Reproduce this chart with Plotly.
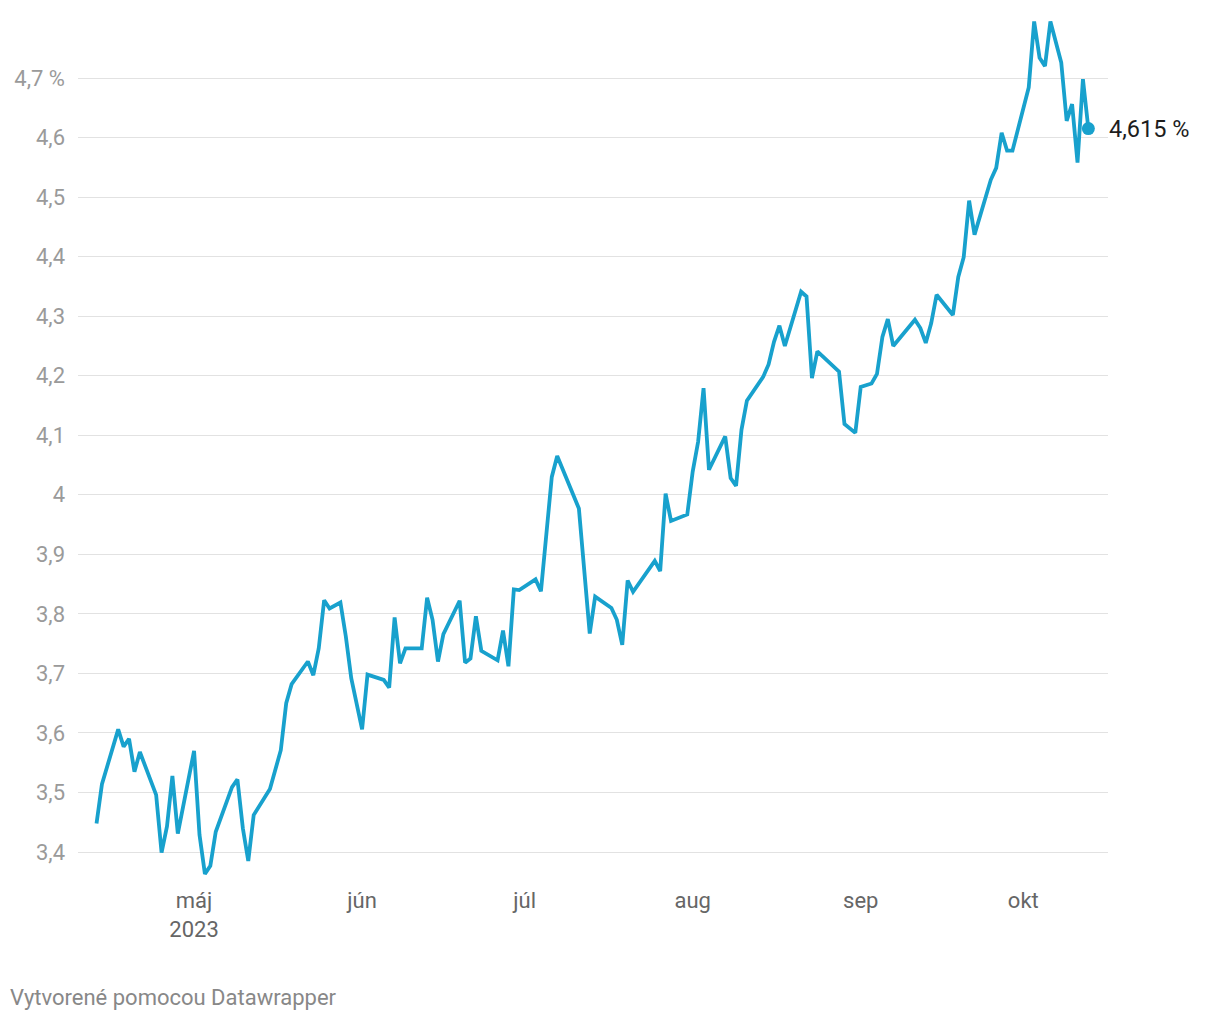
import plotly.graph_objects as go

dates = [
    "2023-04-13", "2023-04-14", "2023-04-17", "2023-04-18", "2023-04-19", "2023-04-20", "2023-04-21",
    "2023-04-24", "2023-04-25", "2023-04-26", "2023-04-27", "2023-04-28",
    "2023-05-01", "2023-05-02", "2023-05-03", "2023-05-04", "2023-05-05",
    "2023-05-08", "2023-05-09", "2023-05-10", "2023-05-11", "2023-05-12",
    "2023-05-15", "2023-05-17", "2023-05-18", "2023-05-19",
    "2023-05-22", "2023-05-23", "2023-05-24", "2023-05-25", "2023-05-26",
    "2023-05-28", "2023-05-29", "2023-05-30", "2023-06-01", "2023-06-02",
    "2023-06-05", "2023-06-06", "2023-06-07", "2023-06-08", "2023-06-09",
    "2023-06-12", "2023-06-13", "2023-06-14", "2023-06-15", "2023-06-16",
    "2023-06-19", "2023-06-20", "2023-06-21", "2023-06-22", "2023-06-23",
    "2023-06-26", "2023-06-27", "2023-06-28", "2023-06-29", "2023-06-30",
    "2023-07-03", "2023-07-04", "2023-07-06", "2023-07-07",
    "2023-07-11", "2023-07-12", "2023-07-13", "2023-07-14",
    "2023-07-17", "2023-07-18", "2023-07-19", "2023-07-20", "2023-07-21",
    "2023-07-25", "2023-07-26", "2023-07-27", "2023-07-28",
    "2023-07-31", "2023-08-01", "2023-08-02", "2023-08-03", "2023-08-04",
    "2023-08-07", "2023-08-08", "2023-08-09", "2023-08-10", "2023-08-11",
    "2023-08-14", "2023-08-15", "2023-08-16", "2023-08-17", "2023-08-18",
    "2023-08-21", "2023-08-22", "2023-08-23", "2023-08-24",
    "2023-08-28", "2023-08-29", "2023-08-31", "2023-09-01",
    "2023-09-03", "2023-09-04", "2023-09-05", "2023-09-06", "2023-09-07",
    "2023-09-11", "2023-09-12", "2023-09-13", "2023-09-14", "2023-09-15",
    "2023-09-18", "2023-09-19", "2023-09-20", "2023-09-21", "2023-09-22",
    "2023-09-25", "2023-09-26", "2023-09-27", "2023-09-28", "2023-09-29",
    "2023-10-02", "2023-10-03", "2023-10-04", "2023-10-05", "2023-10-06",
    "2023-10-08", "2023-10-09", "2023-10-10", "2023-10-11", "2023-10-12", "2023-10-13",
]

yields = [
    3.448, 3.514, 3.606, 3.577, 3.590, 3.535, 3.568,
    3.496, 3.399, 3.443, 3.528, 3.431,
    3.570, 3.429, 3.363, 3.377, 3.434,
    3.509, 3.522, 3.440, 3.385, 3.462,
    3.506, 3.571, 3.650, 3.682,
    3.720, 3.697, 3.742, 3.823, 3.809,
    3.819, 3.762, 3.692, 3.606, 3.698,
    3.689, 3.676, 3.794, 3.717, 3.742,
    3.742, 3.827, 3.790, 3.720, 3.766,
    3.822, 3.718, 3.725, 3.796, 3.738,
    3.722, 3.772, 3.712, 3.841, 3.840,
    3.858, 3.838, 4.030, 4.065,
    3.977, 3.868, 3.767, 3.829,
    3.810, 3.790, 3.748, 3.856, 3.837,
    3.889, 3.872, 4.002, 3.956,
    3.967, 4.039, 4.089, 4.179, 4.042,
    4.098, 4.028, 4.015, 4.109, 4.158,
    4.198, 4.219, 4.257, 4.284, 4.250,
    4.341, 4.333, 4.196, 4.241,
    4.207, 4.119, 4.104, 4.181,
    4.187, 4.203, 4.265, 4.295, 4.250,
    4.294, 4.280, 4.255, 4.288, 4.336,
    4.302, 4.366, 4.399, 4.494, 4.437,
    4.529, 4.549, 4.608, 4.578, 4.578,
    4.684, 4.795, 4.734, 4.720, 4.795,
    4.726, 4.628, 4.656, 4.558, 4.698, 4.615,
]

x_tick_vals = ["2023-05-01", "2023-06-01", "2023-07-01", "2023-08-01", "2023-09-01", "2023-10-01"]
x_tick_text = ["máj<br>2023", "jún", "júl", "aug", "sep", "okt"]

y_tick_vals = [3.4, 3.5, 3.6, 3.7, 3.8, 3.9, 4.0, 4.1, 4.2, 4.3, 4.4, 4.5, 4.6, 4.7]
y_tick_text = ["3,4", "3,5", "3,6", "3,7", "3,8", "3,9", "4", "4,1", "4,2", "4,3", "4,4", "4,5", "4,6", "4,7 %"]

end_label = "4,615 %"
footer = "Vytvorené pomocou Datawrapper"

LINE = "#18a1cd"
FONT = "Roboto"

fig = go.Figure()
fig.add_trace(go.Scatter(
    x=dates, y=yields, mode="lines",
    line=dict(color=LINE, width=3.8),
    hoverinfo="skip", showlegend=False,
))
fig.add_trace(go.Scatter(
    x=[dates[-1]], y=[yields[-1]], mode="markers",
    marker=dict(color=LINE, size=13),
    hoverinfo="skip", showlegend=False,
))

fig.add_annotation(
    x=dates[-1], y=yields[-1], text=end_label, showarrow=False,
    xanchor="left", yanchor="middle", xshift=19,
    font=dict(family=FONT, size=23.5, color="#1d1d1d"),
)
fig.add_annotation(
    xref="paper", yref="paper", x=-0.068, y=-0.1379,
    text=footer, showarrow=False, xanchor="left", yanchor="middle",
    font=dict(family=FONT, size=22, color="#888888"),
)

fig.update_layout(
    width=1220, height=1020,
    margin=dict(l=70, r=120, t=7, b=150),
    paper_bgcolor="white", plot_bgcolor="white",
    font=dict(family=FONT),
    xaxis=dict(
        type="date",
        range=["2023-04-09 14:00", "2023-10-16 15:00"],
        tickvals=x_tick_vals, ticktext=x_tick_text,
        showgrid=False, zeroline=False, showline=False,
        ticks="", ticklabelstandoff=7,
        tickfont=dict(family=FONT, size=22, color="#666666"),
    ),
    yaxis=dict(
        range=[3.3564, 4.8058],
        tickvals=y_tick_vals, ticktext=y_tick_text,
        showgrid=True, gridcolor="#e2e2e2", gridwidth=1,
        zeroline=False, showline=False, ticks="",
        ticklabelstandoff=12,
        tickfont=dict(family=FONT, size=22, color="#9a9a9a"),
    ),
)

fig.write_html("out.html")
